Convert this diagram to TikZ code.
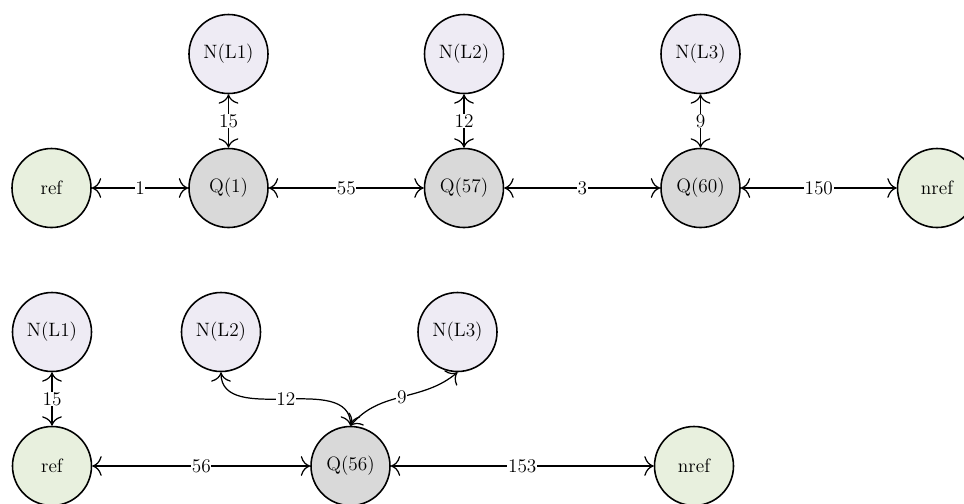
\documentclass[tikz,border=0pt]{standalone}
\usepackage{tikz}
\usetikzlibrary{arrows.meta}
\definecolor{refgreen}{HTML}{E8F0DE}
\definecolor{nlav}{HTML}{EEEBF4}
\definecolor{qgray}{HTML}{D9D9D9}
\begin{document}
\begin{tikzpicture}[>={To[scale=1.7]},font=\fontsize{11}{13}\selectfont,
  st/.style={circle,draw,line width=0.9pt,minimum size=1.58cm,inner sep=0pt},
  refn/.style={st,fill=refgreen},
  nn/.style={st,fill=nlav},
  qn/.style={st,fill=qgray},
  lk/.style={<->,line width=0.7pt},
  w/.style={fill=white,inner sep=0.4pt}]
\useasboundingbox (0,0) rectangle (19.28,-10.06);
% upper chain
\node[refn] (ref) at (1.03,-3.76) {ref};
\node[qn] (q1) at (4.57,-3.76) {Q(1)};
\node[qn] (q57) at (9.28,-3.76) {Q(57)};
\node[qn] (q60) at (14.01,-3.76) {Q(60)};
\node[refn] (nref) at (18.74,-3.76) {nref};
\node[nn] (n1) at (4.57,-1.08) {N(L1)};
\node[nn] (n2) at (9.28,-1.08) {N(L2)};
\node[nn] (n3) at (14.01,-1.08) {N(L3)};
\draw[lk] (ref)--node[w]{1}(q1);
\draw[lk] (q1)--node[w]{55}(q57);
\draw[lk] (q57)--node[w]{3}(q60);
\draw[lk] (q60)--node[w]{150}(nref);
\draw[lk] (n1)--node[w]{15}(q1);
\draw[lk] (n2)--node[w]{12}(q57);
\draw[lk] (n3)--node[w]{9}(q60);
% lower chain
\node[refn] (refb) at (1.04,-9.32) {ref};
\node[qn] (q56) at (7.01,-9.32) {Q(56)};
\node[refn] (nrefb) at (13.88,-9.32) {nref};
\node[nn] (m1) at (1.04,-6.64) {N(L1)};
\node[nn] (m2) at (4.42,-6.64) {N(L2)};
\node[nn] (m3) at (9.15,-6.64) {N(L3)};
\draw[lk] (refb)--node[w]{56}(q56);
\draw[lk] (q56)--node[w]{153}(nrefb);
\draw[lk] (m1)--node[w]{15}(refb);
\draw[lk] (m2.south) to[out=-90,in=90] node[w]{12} (q56.north);
\draw[lk] (m3.south) to[out=-140,in=50] node[w]{9} (q56.north);
\end{tikzpicture}
\end{document}
